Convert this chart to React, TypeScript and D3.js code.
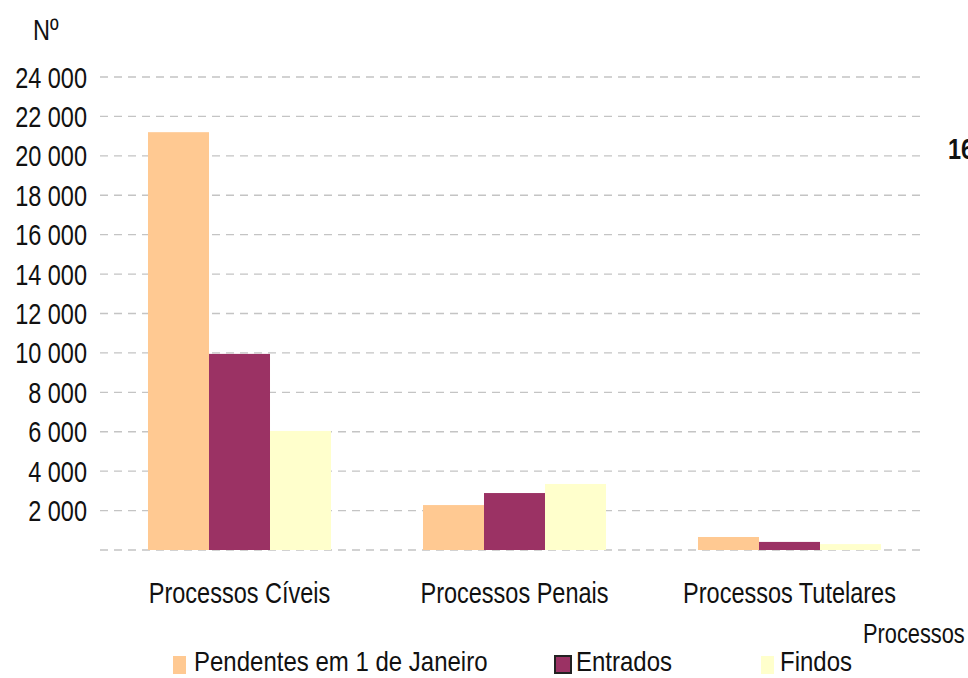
import React from "react";
import * as d3 from "d3";

const categories = ["Processos Cíveis", "Processos Penais", "Processos Tutelares"];
const seriesNames = ["Pendentes em 1 de Janeiro", "Entrados", "Findos"];
const pendentes = [21200, 2280, 660];
const entrados = [9950, 2890, 410];
const findos = [6040, 3350, 300];
const yTicks = [2000, 4000, 6000, 8000, 10000, 12000, 14000, 16000, 18000, 20000, 22000, 24000];
const colors = ["#FFC992", "#9B3264", "#FFFFCC"];

const W = 968;
const H = 678;
const FONT = "'Liberation Sans', Arial, sans-serif";

function T(props: { x: number; y: number; size?: number; sy?: number; anchor?: string; weight?: string; children: React.ReactNode }) {
  const { x, y, size = 23.5, sy = 1.28, anchor = "start", weight = "normal", children } = props;
  return (
    <text
      transform={`translate(${x},${y}) scale(1,${sy})`}
      fontSize={size}
      textAnchor={anchor}
      fontWeight={weight}
      fill="#111"
    >
      {children}
    </text>
  );
}

export default function App() {
  const series = [pendentes, entrados, findos];
  const y = d3.scaleLinear().domain([0, 24000]).range([550, 77]);
  const x = d3.scaleBand<string>().domain(categories).range([102, 927]).paddingInner(0.3345).paddingOuter(0.16725);
  const xs = d3.scaleBand<string>().domain(seriesNames).range([0, x.bandwidth()]);
  const fmt = (v: number) => d3.format(",")(v).replace(/,/g, " ");
  const gridVals = [0, ...yTicks];

  const legendItems = [
    { sq: 173, w: 13, tx: 194 },
    { sq: 555, w: 16, tx: 576 },
    { sq: 761, w: 13, tx: 780 },
  ];

  return (
    <svg width={W} height={H} style={{ position: "absolute", left: 0, top: 0, background: "#fff" }} fontFamily={FONT}>
      <rect x={0} y={0} width={W} height={H} fill="#fff" />
      {gridVals.map((v) => (
        <line key={v} x1={100} x2={925} y1={y(v)} y2={y(v)} stroke="#c4c4c4" strokeWidth={1.3} strokeDasharray="8 6" />
      ))}
      {yTicks.map((v) => (
        <T key={v} x={87} y={y(v) + 10.5} anchor="end">
          {fmt(v)}
        </T>
      ))}
      <T x={33} y={40}>Nº</T>
      {categories.map((c, ci) =>
        series.map((s, si) => (
          <rect
            key={c + si}
            x={(x(c) as number) + (xs(seriesNames[si]) as number)}
            y={y(s[ci])}
            width={xs.bandwidth()}
            height={y(0) - y(s[ci])}
            fill={colors[si]}
          />
        ))
      )}
      {categories.map((c) => (
        <T key={c} x={(x(c) as number) + x.bandwidth() / 2} y={603} anchor="middle">
          {c}
        </T>
      ))}
      <T x={863} y={643} size={21.8}>Processos</T>
      <T x={948} y={159} weight="bold">16</T>
      {seriesNames.map((n, i) => (
        <g key={n}>
          <rect
            x={legendItems[i].sq}
            y={656}
            width={legendItems[i].w}
            height={i === 1 ? 17 : 18}
            fill={colors[i]}
            stroke={i === 1 ? "#222" : "none"}
            strokeWidth={i === 1 ? 2 : 0}
          />
          <T x={legendItems[i].tx} y={671} size={24} sy={1.15}>{n}</T>
        </g>
      ))}
    </svg>
  );
}
